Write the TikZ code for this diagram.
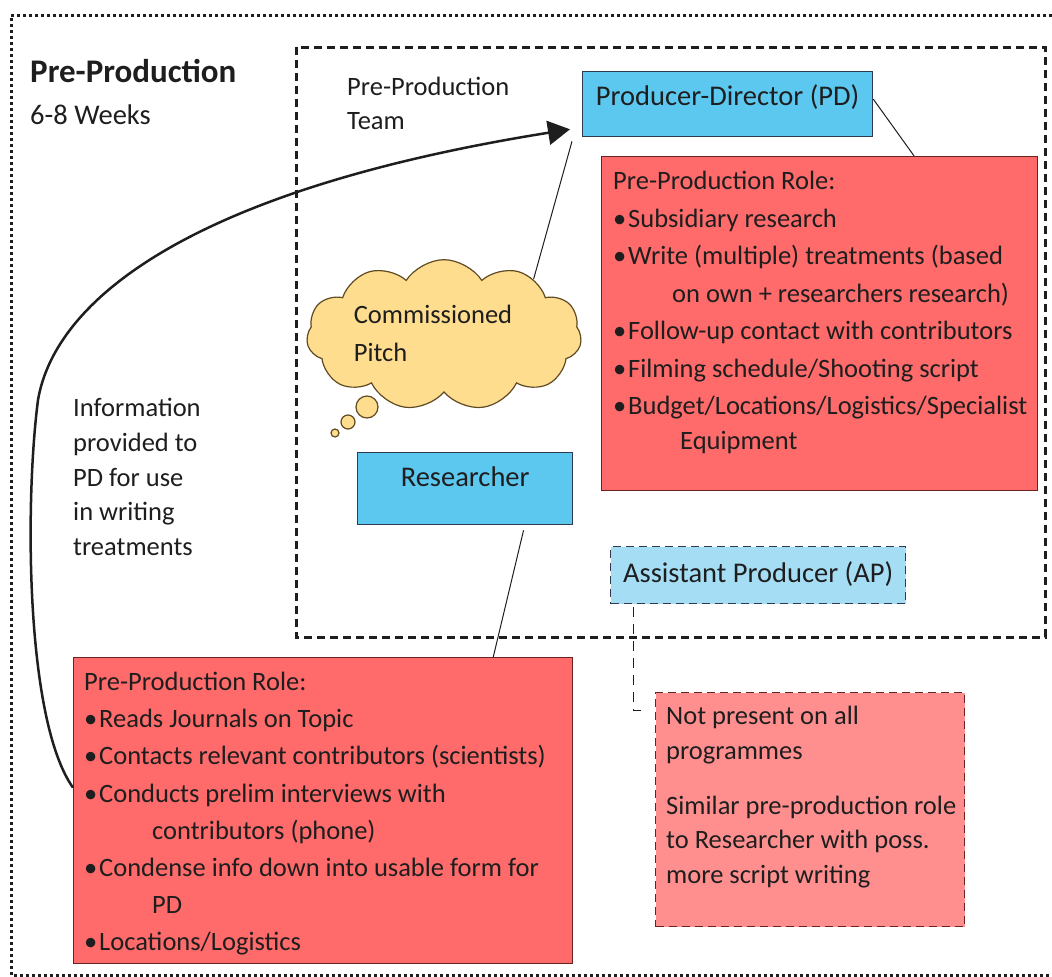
\documentclass[tikz,border=0pt]{standalone}
\usepackage{fontspec}
\setmainfont{Carlito}
\usetikzlibrary{shapes.symbols,arrows.meta,calc}

\definecolor{pdblue}{RGB}{92,200,240}
\definecolor{apblue}{RGB}{165,221,245}
\definecolor{rolered}{RGB}{255,106,106}
\definecolor{notered}{RGB}{255,143,143}
\definecolor{pitchfill}{RGB}{255,221,142}
\definecolor{pitchline}{RGB}{95,75,35}
\definecolor{boxline}{RGB}{45,60,80}
\definecolor{redline}{RGB}{105,35,35}
\definecolor{ink}{RGB}{30,30,30}

\newcommand{\bodyfont}{\fontsize{26.5}{37.5}\selectfont}
\newcommand{\titlefont}{\fontsize{28.5}{34}\selectfont}
\newcommand{\bul}{\makebox[15pt][l]{•}}
% lines stacked from the baseline of the first one
\newcommand{\stack}[1]{\begin{tabular}[t]{@{}l@{}}#1\end{tabular}}

\begin{document}
\begin{tikzpicture}[x=1pt,y=-1pt,
  every node/.style={text=ink, font=\bodyfont},
  basebox/.style={rectangle, anchor=north west, inner sep=0pt, line width=1.3pt},
  bluebox/.style={basebox, draw=boxline, fill=pdblue, font=\titlefont},
  rolebox/.style={basebox, draw=redline, fill=rolered},
  apbox/.style={basebox, draw=boxline, fill=apblue, dash pattern=on 8pt off 5pt, font=\titlefont},
  notebox/.style={basebox, draw=redline, fill=notered, dash pattern=on 8pt off 5pt},
  txt/.style={anchor=base west, inner sep=0pt},
  link/.style={draw=ink, line width=1pt},
  teamframe/.style={draw=ink, line width=3pt, dash pattern=on 8pt off 5pt},
  phaseframe/.style={draw=ink, line width=3pt, dash pattern=on 3pt off 3pt},
  pitchstyle/.style={draw=pitchline, fill=pitchfill, line width=1.2pt}
]
\useasboundingbox (0,0) rectangle (1052,977);

% phase frame and team frame
\draw[phaseframe] (1052,15) -- (11,15) -- (11,975) -- (1052,975);
\draw[teamframe] (296,47) rectangle (1045,637);

% headings
\node[txt, font=\fontsize{33}{36}\selectfont\bfseries] (phase) at (30,82) {Pre-Production};
\node[txt, font=\titlefont] (weeks) at (30,124) {6-8 Weeks};
\node[txt, font=\fontsize{26.5}{34}\selectfont] (team) at (347,95) {\stack{Pre-Production\\Team}};

% producer-director
\node[bluebox, minimum width=290pt, minimum height=65pt, text height=12pt, text depth=10pt] (pd) at (582,71) {Producer-Director (PD)};
\node[rolebox, minimum width=436pt, minimum height=334pt] (pdrole) at (601,156) {};
\node[txt] (pdroletext) at (613,189.5) {\stack{Pre-Production Role:\\
\bul Subsidiary research\\
\bul Write (multiple) treatments (based\\
\hspace*{59pt}on own + researchers research)\\
\bul Follow-up contact with contributors\\
\bul Filming schedule/Shooting script\\
\bul Budget/Locations/Logistics/Specialist\\[-3pt]
\hspace*{67pt}Equipment}};

% commissioned pitch
\node[cloud, cloud puffs=11, cloud puff arc=115, aspect=2.2, pitchstyle,
      minimum width=275pt, minimum height=128pt, inner sep=0pt] (pitch) at (444,335)
      {\stack{Commissioned\hspace*{22pt}\\Pitch}};
\draw[pitchstyle] (367,407) circle (11pt);
\draw[pitchstyle] (348,422) circle (7pt);
\draw[pitchstyle] (335,433) circle (4pt);

% researcher
\node[bluebox, minimum width=215pt, minimum height=72pt, text height=12pt, text depth=16pt] (res) at (357,452) {Researcher};
\node[rolebox, minimum width=499pt, minimum height=306pt] (resrole) at (73,657) {};
\node[txt, font=\fontsize{26.5}{37.2}\selectfont] (resroletext) at (84,690.5) {\stack{Pre-Production Role:\\
\bul Reads Journals on Topic\\
\bul Contacts relevant contributors (scientists)\\
\bul Conducts prelim interviews with\\
\hspace*{68pt}contributors (phone)\\
\bul Condense info down into usable form for\\
\hspace*{68pt}PD\\
\bul Locations/Logistics}};

% assistant producer
\node[apbox, minimum width=295pt, minimum height=57pt, text height=18pt, text depth=3pt] (ap) at (610,546) {Assistant Producer (AP)};
\node[notebox, minimum width=309pt, minimum height=234pt] (note) at (655,692) {};
\node[txt, font=\fontsize{26.5}{34.5}\selectfont] (notetext) at (666,724.5) {\stack{Not present on all\\programmes\\[20.5pt]
Similar pre-production role\\to Researcher with poss.\\more script writing}};

% information flow note
\node[txt, font=\fontsize{26.5}{34.75}\selectfont] (info) at (73,416.5) {\stack{Information\\provided to\\PD for use\\in writing\\treatments}};

% connectors
\draw[link] ([yshift=5pt]pd.east) -- ($(pdrole.north west)!0.716!(pdrole.north east)$);
\draw[link] (pitch.32) -- ([shift={(-10,4)}]pd.south west);
\draw[link] ($(res.south west)!0.77!(res.south east)+(0,5)$) -- ($(resrole.north west)!0.84!(resrole.north east)$);
\draw[link, dash pattern=on 10pt off 7pt, shorten >=14pt] ($(ap.south west)!0.08!(ap.south east)+(0,3)$) |- ($(note.north west)!0.077!(note.south west)$);
\draw[draw=ink, line width=2.5pt, -{Triangle[length=22pt,width=24pt]}]
  ($(resrole.north west)!0.425!(resrole.south west)$)
  .. controls (25,720) and (25,500) .. (38,400)
  .. controls (55,300) and (190,190) .. ([shift={(-12,-8)}]pd.south west);
\end{tikzpicture}
\end{document}
